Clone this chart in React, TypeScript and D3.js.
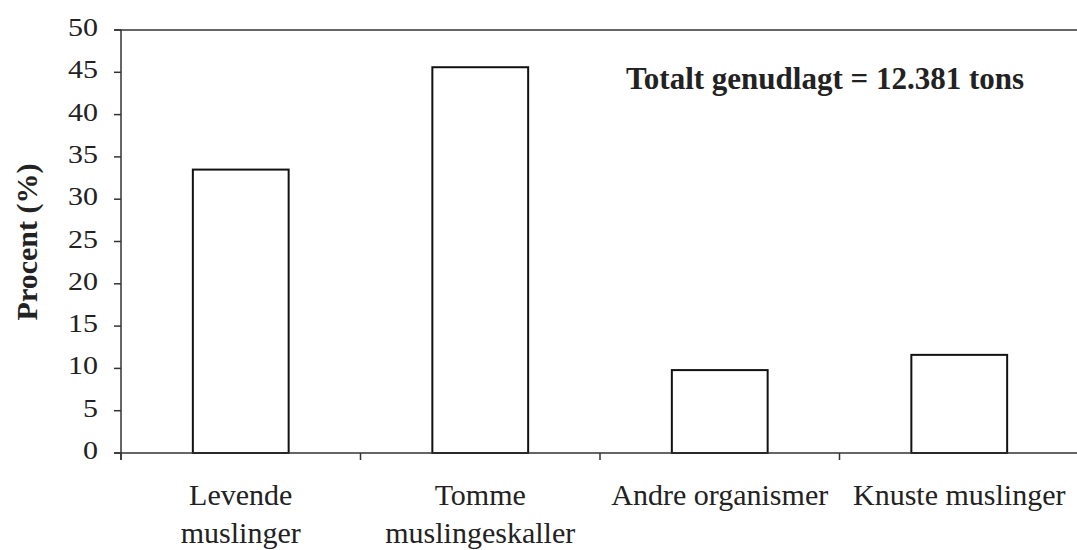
import React from "react";
import * as d3 from "d3";

const categories: string[][] = [
  ["Levende", "muslinger"],
  ["Tomme", "muslingeskaller"],
  ["Andre organismer"],
  ["Knuste muslinger"],
];
const values: number[] = [33.5, 45.6, 9.8, 11.6];
const yTicks: number[] = [0, 5, 10, 15, 20, 25, 30, 35, 40, 45, 50];
const yTitle = "Procent (%)";
const annotation = "Totalt genudlagt = 12.381 tons";

const W = 1077;
const H = 550;
const left = 121;
const right = 1079;
const top = 30;
const bottom = 453;

export default function App() {
  const keys = categories.map((c) => c.join(" "));
  const x = d3.scaleBand<string>().domain(keys).range([left, right]).paddingInner(0.6).paddingOuter(0.3);
  const y = d3.scaleLinear().domain([0, 50]).range([bottom, top]);
  const step = x.step();
  const font = "'Liberation Serif', 'Times New Roman', serif";
  const axisColor = "#333";

  return (
    <svg width={W} height={H} style={{ position: "absolute", left: 0, top: 0, background: "#fff" }} fontFamily={font}>
      <rect x={0} y={0} width={W} height={H} fill="#fff" />
      {/* top border */}
      <line x1={left - 7} x2={W} y1={y(50)} y2={y(50)} stroke={axisColor} strokeWidth={1.5} />
      {/* y axis */}
      <line x1={left} x2={left} y1={y(50)} y2={bottom + 7} stroke={axisColor} strokeWidth={1.5} />
      {yTicks.map((t) => (
        <g key={t}>
          <line x1={left - 7} x2={left} y1={y(t)} y2={y(t)} stroke={axisColor} strokeWidth={1.5} />
          <text
            transform={`translate(98, ${y(t) + 6}) scale(1.2,1)`}
            textAnchor="end"
            fontSize={25}
            fill="#222"
          >
            {t}
          </text>
        </g>
      ))}
      {/* bars */}
      {keys.map((k, i) => (
        <rect
          key={k}
          x={x(k)!}
          y={y(values[i])}
          width={x.bandwidth()}
          height={bottom - y(values[i])}
          fill="#fff"
          stroke="#111"
          strokeWidth={2}
        />
      ))}
      {/* x axis */}
      <line x1={left - 7} x2={W} y1={bottom} y2={bottom} stroke={axisColor} strokeWidth={1.5} />
      {keys.map((k, i) => (
        <line
          key={"t" + k}
          x1={left + step * i}
          x2={left + step * i}
          y1={bottom}
          y2={bottom + 7}
          stroke={axisColor}
          strokeWidth={1.5}
        />
      ))}
      {categories.map((lines, i) => (
        <text
          key={"l" + i}
          x={x(keys[i])! + x.bandwidth() / 2}
          y={505}
          textAnchor="middle"
          fontSize={30}
          fill="#222"
        >
          {lines.map((ln, j) => (
            <tspan key={j} x={x(keys[i])! + x.bandwidth() / 2} y={505 + j * 38}>
              {ln}
            </tspan>
          ))}
        </text>
      ))}
      {/* y title */}
      <text
        transform={`translate(37, 242) rotate(-90)`}
        textAnchor="middle"
        fontSize={30}
        fontWeight="bold"
        fill="#222"
      >
        {yTitle}
      </text>
      {/* annotation */}
      <text x={626} y={89} fontSize={31} fontWeight="bold" fill="#222">
        {annotation}
      </text>
    </svg>
  );
}
